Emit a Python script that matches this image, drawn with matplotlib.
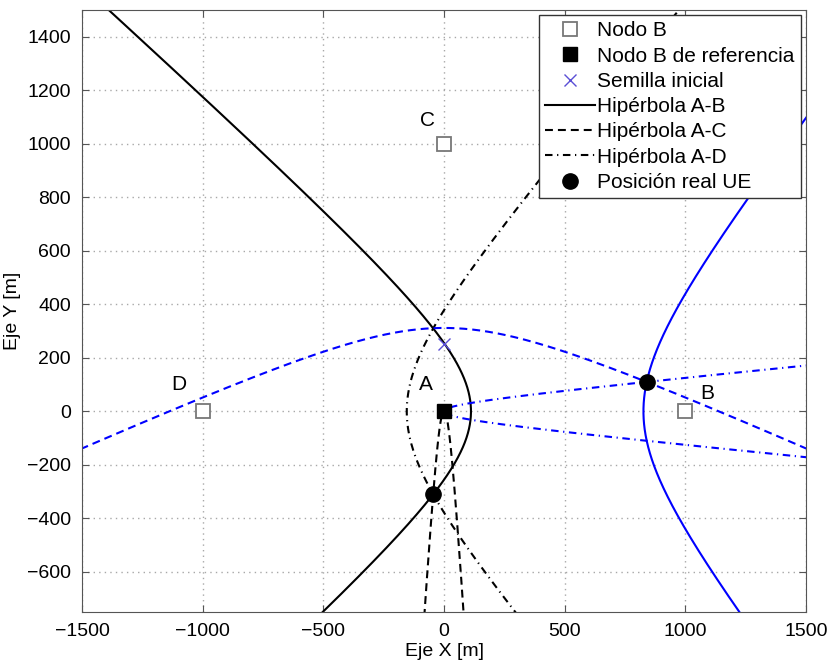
import numpy as np
import matplotlib.pyplot as plt

plt.rcParams['font.family'] = ['Liberation Sans', 'DejaVu Sans']

# node positions [m]
node_names = ['A', 'B', 'C', 'D']
node_x = [0, 1000, 0, -1000]
node_y = [0, 0, 1000, 0]
label_x = [-75, 1090, -70, -1100]
label_y = [100, 65, 1085, 100]

# initial seed
seed_x = [0]
seed_y = [250]

# real UE positions (black scenario, blue scenario)
ue_x = [-45, 840]
ue_y = [-310, 110]
ue_colors = ['k', 'b']

pairs = ['A-B', 'A-C', 'A-D']
pair_dashes = [(None, None), (3.8, 2.4), (3.6, 2.2, 0.6, 2.2)]


def hyperbola_branch(f1, f2, ue, t_max=4.0, n=800):
    # branch through ue of |X-f1| - |X-f2| = const
    f1 = np.array(f1, float)
    f2 = np.array(f2, float)
    ue = np.array(ue, float)
    d = np.linalg.norm(ue - f1) - np.linalg.norm(ue - f2)
    m = (f1 + f2) / 2
    c = np.linalg.norm(f2 - f1) / 2
    u = (f2 - f1) / (2 * c)
    v = np.array([-u[1], u[0]])
    a = abs(d) / 2
    b = np.sqrt(c**2 - a**2)
    t = np.linspace(-t_max, t_max, n)
    pts = m[:, None] + np.sign(d) * a * np.cosh(t) * u[:, None] + b * np.sinh(t) * v[:, None]
    return pts[0], pts[1]


fig = plt.figure(figsize=(8.3, 6.61), dpi=100)
ax = fig.add_axes([0.099, 0.074, 0.872, 0.911])

ax.grid(True, color='#a8a8a8', linewidth=1.0, dashes=(1, 3))
ax.set_axisbelow(True)

A = (node_x[0], node_y[0])
for k, col in enumerate(ue_colors):
    ue = (ue_x[k], ue_y[k])
    for j, pr in enumerate(pairs):
        other = (node_x[j + 1], node_y[j + 1])
        hx, hy = hyperbola_branch(A, other, ue, t_max=8.0, n=4000)
        ln, = ax.plot(hx, hy, color=col, linewidth=1.5,
                      label=('Hipérbola ' + pr) if col == 'k' else None, zorder=2)
        if pair_dashes[j][0] is not None:
            ln.set_dashes(pair_dashes[j])

ax.plot(node_x[1:], node_y[1:], 's', markersize=10, markerfacecolor='white',
        markeredgecolor='#777777', markeredgewidth=1.3, linestyle='none',
        label='Nodo B', zorder=3)
ax.plot(node_x[:1], node_y[:1], 's', markersize=10, color='k', linestyle='none',
        label='Nodo B de referencia', zorder=3)
ax.plot(seed_x, seed_y, 'x', markersize=9, color='#5a4fd6', markeredgewidth=1.0,
        linestyle='none', label='Semilla inicial', zorder=4)
ax.plot(ue_x, ue_y, 'o', markersize=11, color='k', linestyle='none',
        label='Posición real UE', zorder=5)

for i, name in enumerate(node_names):
    ax.text(label_x[i], label_y[i], name, fontsize=15, ha='center', va='center')

ax.set_xlim(-1500, 1500)
ax.set_ylim(-750, 1500)
ax.set_xticks(np.arange(-1500, 1501, 500))
ax.set_yticks(np.arange(-600, 1401, 200))
ax.tick_params(direction='in', labelsize=14, top=True, right=True, length=5,
               color='#555555')
ax.tick_params(axis='x', pad=8)
ax.tick_params(axis='y', pad=8)
for s in ax.spines.values():
    s.set_color('#555555')
ax.set_xlabel('Eje X [m]', fontsize=14, labelpad=2)
ax.set_ylabel('Eje Y [m]', fontsize=14, labelpad=4)

handles, labels = ax.get_legend_handles_labels()
order = ['Nodo B', 'Nodo B de referencia', 'Semilla inicial', 'Hipérbola A-B',
         'Hipérbola A-C', 'Hipérbola A-D', 'Posición real UE']
hmap = dict(zip(labels, handles))
leg = ax.legend([hmap[o] for o in order], order, loc='upper right', fontsize=15,
                fancybox=False, framealpha=1, edgecolor='#333333',
                borderaxespad=0.25, handlelength=2.4, handletextpad=0.1,
                labelspacing=0.3, borderpad=0.3)
leg.get_frame().set_linewidth(1.0)

fig.savefig('out.png', dpi=100)
